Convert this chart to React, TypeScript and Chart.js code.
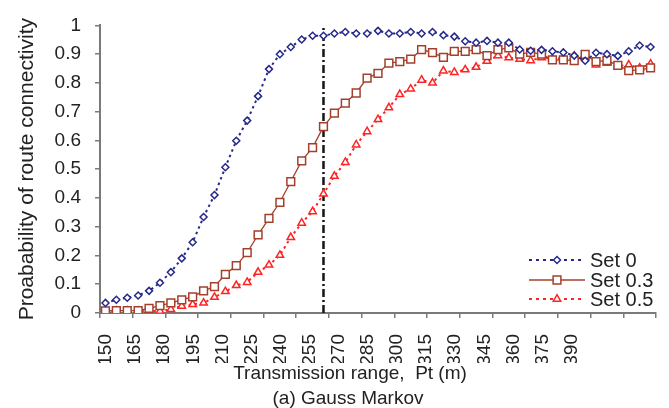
import React, { useEffect, useRef } from 'react';
import { Chart, registerables } from 'chart.js';

Chart.register(...registerables);

// Transmission range categories (m)
const rangeValues = [
  150, 155, 160, 165, 170, 175, 180, 185, 190, 195,
  200, 205, 210, 215, 220, 225, 230, 235, 240, 245,
  250, 255, 260, 265, 270, 275, 280, 285, 290, 295,
  300, 305, 310, 315, 320, 325, 330, 335, 340, 345,
  350, 355, 360, 365, 370, 375, 380, 385, 390, 395, 400,
];

// Probability of route connectivity
const set0 = [
  0.035, 0.046, 0.053, 0.061, 0.077, 0.105, 0.142, 0.19, 0.246, 0.334,
  0.41, 0.507, 0.599, 0.669, 0.754, 0.848, 0.9, 0.925, 0.951, 0.964,
  0.964, 0.972, 0.977, 0.972, 0.972, 0.981, 0.972, 0.972, 0.977, 0.972,
  0.977, 0.966, 0.961, 0.945, 0.94, 0.946, 0.94, 0.94, 0.916, 0.912,
  0.915, 0.91, 0.906, 0.895, 0.877, 0.905, 0.9, 0.894, 0.91, 0.93, 0.925,
];
const set03 = [
  0.007, 0.008, 0.008, 0.008, 0.016, 0.026, 0.035, 0.046, 0.056, 0.077,
  0.092, 0.134, 0.165, 0.21, 0.272, 0.329, 0.385, 0.457, 0.529, 0.575,
  0.648, 0.695, 0.73, 0.765, 0.817, 0.833, 0.869, 0.874, 0.883, 0.916,
  0.905, 0.889, 0.91, 0.91, 0.916, 0.895, 0.916, 0.922, 0.9, 0.906,
  0.9, 0.88, 0.88, 0.878, 0.899, 0.874, 0.878, 0.861, 0.843, 0.845, 0.852,
];
const set05 = [
  0.002, 0.007, 0.007, 0.007, 0.007, 0.007, 0.013, 0.024, 0.03, 0.035,
  0.055, 0.075, 0.096, 0.107, 0.142, 0.167, 0.201, 0.263, 0.313, 0.353,
  0.414, 0.476, 0.524, 0.585, 0.631, 0.673, 0.714, 0.76, 0.779, 0.81,
  0.8, 0.842, 0.837, 0.846, 0.855, 0.876, 0.895, 0.888, 0.883, 0.878,
  0.888, 0.885, 0.885, 0.893, 0.888, 0.863, 0.869, 0.858, 0.863, 0.852, 0.866,
];

const xTickLabels = [150, 165, 180, 195, 210, 225, 240, 255, 270, 285, 300, 315, 330, 345, 360, 375, 390];
const seriesNames = ['Set 0', 'Set 0.3', 'Set 0.5'];
const markerRange = 250;
const xTitle = 'Transmission range,  Pt (m)';
const yTitle = 'Proabability of route connectivity';
const caption = '(a) Gauss Markov';

const FONT = '"Liberation Sans", Arial, Helvetica, sans-serif';
const C0 = '#26298a';
const C3 = '#a3402c';
const C5 = '#ff2424';
const AXIS = '#7a7a7a';
const TEXT = '#222222';

const toPoints = (vals: number[]) => vals.map((v, i) => ({ x: rangeValues[i], y: v }));

function drawMarker(ctx: CanvasRenderingContext2D, kind: string, x: number, y: number, color: string) {
  ctx.save();
  ctx.setLineDash([]);
  ctx.strokeStyle = color;
  ctx.fillStyle = '#ffffff';
  ctx.lineWidth = 1.5;
  ctx.beginPath();
  if (kind === 'rectRot') {
    const r = 3.5;
    ctx.moveTo(x - r, y);
    ctx.lineTo(x, y - r);
    ctx.lineTo(x + r, y);
    ctx.lineTo(x, y + r);
    ctx.closePath();
  } else if (kind === 'rect') {
    const s = 5.5 * Math.SQRT1_2;
    ctx.rect(x - s, y - s, 2 * s, 2 * s);
  } else {
    const r = 4.3;
    for (let k = 0; k < 3; k++) {
      const a = (k * 2 * Math.PI) / 3;
      const px = x + Math.sin(a) * r;
      const py = y - Math.cos(a) * r;
      if (k === 0) ctx.moveTo(px, py);
      else ctx.lineTo(px, py);
    }
    ctx.closePath();
  }
  ctx.fill();
  ctx.stroke();
  ctx.restore();
}

const overlayPlugin = {
  id: 'overlayTexts',
  afterDraw(chart: any) {
    const ctx: CanvasRenderingContext2D = chart.ctx;
    const a = chart.chartArea;
    ctx.save();
    ctx.fillStyle = TEXT;
    ctx.textAlign = 'center';
    ctx.textBaseline = 'middle';
    ctx.font = `19px ${FONT}`;
    ctx.fillText(xTitle, a.left + 250, a.bottom + 61);
    ctx.fillText(caption, a.left + 248, a.bottom + 86);

    // legend
    const styles = [
      { color: C0, dash: [3, 4], kind: 'rectRot' },
      { color: C3, dash: [], kind: 'rect' },
      { color: C5, dash: [3, 4], kind: 'triangle' },
    ];
    const rows = [a.bottom - 53, a.bottom - 33, a.bottom - 14];
    const x0 = a.right - 127;
    const x1 = a.right - 71;
    const xm = a.right - 99;
    seriesNames.forEach((name, i) => {
      const st = styles[i];
      const y = rows[i];
      ctx.save();
      ctx.strokeStyle = st.color;
      ctx.lineWidth = i === 1 ? 1.3 : 2;
      ctx.setLineDash(st.dash);
      ctx.beginPath();
      ctx.moveTo(x0, y);
      ctx.lineTo(x1, y);
      ctx.stroke();
      ctx.restore();
      drawMarker(ctx, st.kind, xm, y, st.color);
      ctx.fillStyle = TEXT;
      ctx.textAlign = 'left';
      ctx.textBaseline = 'middle';
      ctx.font = `20px ${FONT}`;
      ctx.fillText(name, a.right - 66, y + 1);
    });
    ctx.restore();
  },
};

export default function App() {
  const canvasRef = useRef<HTMLCanvasElement | null>(null);

  useEffect(() => {
    if (!canvasRef.current) return;
    const boundaries: number[] = [];
    for (let i = 0; i < rangeValues.length; i += 3) boundaries.push(rangeValues[i] - 2.5);
    boundaries.push(rangeValues[rangeValues.length - 1] + 2.5);

    const chart = new Chart(canvasRef.current, {
      type: 'line',
      data: {
        datasets: [
          {
            label: seriesNames[0],
            data: toPoints(set0),
            borderColor: C0,
            borderWidth: 2,
            borderDash: [2.5, 3.5],
            pointStyle: 'rectRot',
            pointRadius: 3.5,
            pointBorderWidth: 1.5,
            pointBorderColor: C0,
            pointBackgroundColor: '#ffffff',
            tension: 0,
          },
          {
            label: seriesNames[1],
            data: toPoints(set03),
            borderColor: C3,
            borderWidth: 1.3,
            pointStyle: 'rect',
            pointRadius: 5.5,
            pointBorderWidth: 1.5,
            pointBorderColor: C3,
            pointBackgroundColor: '#ffffff',
            tension: 0,
          },
          {
            label: seriesNames[2],
            data: toPoints(set05),
            borderColor: C5,
            borderWidth: 2,
            borderDash: [2.5, 3.5],
            pointStyle: 'triangle',
            pointRadius: 4.3,
            pointBorderWidth: 1.5,
            pointBorderColor: C5,
            pointBackgroundColor: '#ffffff',
            tension: 0,
          },
          {
            label: 'marker',
            data: [
              { x: markerRange, y: 0 },
              { x: markerRange, y: 1 },
            ],
            borderColor: '#151515',
            borderWidth: 2.5,
            borderDash: [8, 3, 2, 3],
            pointRadius: 0,
            tension: 0,
          },
        ],
      },
      options: {
        responsive: false,
        devicePixelRatio: 1,
        animation: false,
        events: [],
        layout: { padding: { top: 16, right: 13, bottom: 45, left: 0 } },
        plugins: {
          legend: { display: false },
          tooltip: { enabled: false },
          title: { display: false },
        },
        scales: {
          x: {
            type: 'linear',
            position: 'bottom',
            min: rangeValues[0] - 2.5,
            max: rangeValues[rangeValues.length - 1] + 2.5,
            afterBuildTicks: (scale: any) => {
              scale.ticks = boundaries.map((v) => ({ value: v }));
            },
            grid: {
              drawOnChartArea: false,
              drawTicks: true,
              tickLength: 5,
              color: AXIS,
              lineWidth: 1.5,
            },
            border: { display: true, color: AXIS, width: 2 },
            ticks: { display: false },
          },
          x2: {
            type: 'linear',
            position: 'bottom',
            min: 146.9,
            max: 433.5,
            afterBuildTicks: (scale: any) => {
              scale.ticks = xTickLabels.map((v) => ({ value: v }));
            },
            afterFit: (scale: any) => {
              scale.height = 45;
            },
            grid: { display: false },
            border: { display: false },
            ticks: {
              autoSkip: false,
              minRotation: 90,
              maxRotation: 90,
              padding: 8,
              color: TEXT,
              font: { family: FONT, size: 19 },
              callback: (v: any) => String(v),
            },
          },
          y: {
            type: 'linear',
            min: 0,
            max: 1,
            afterFit: (scale: any) => {
              scale.width = 100;
            },
            grid: {
              drawOnChartArea: false,
              drawTicks: true,
              tickLength: 5,
              color: AXIS,
              lineWidth: 1.5,
            },
            border: { display: true, color: AXIS, width: 2 },
            ticks: {
              stepSize: 0.1,
              padding: 14,
              color: TEXT,
              font: { family: FONT, size: 19 },
              callback: (v: any) => String(Number(Number(v).toFixed(1))),
            },
            title: {
              display: true,
              text: yTitle,
              color: TEXT,
              font: { family: FONT, size: 21 },
              padding: { top: 15, bottom: 0 },
            },
          },
        },
      },
      plugins: [overlayPlugin],
    } as any);

    return () => chart.destroy();
  }, []);

  return (
    <div style={{ position: 'fixed', left: 0, top: 0, width: 669, height: 408, background: '#ffffff' }}>
      <canvas ref={canvasRef} width={669} height={408} style={{ display: 'block', width: 669, height: 408 }} />
    </div>
  );
}
